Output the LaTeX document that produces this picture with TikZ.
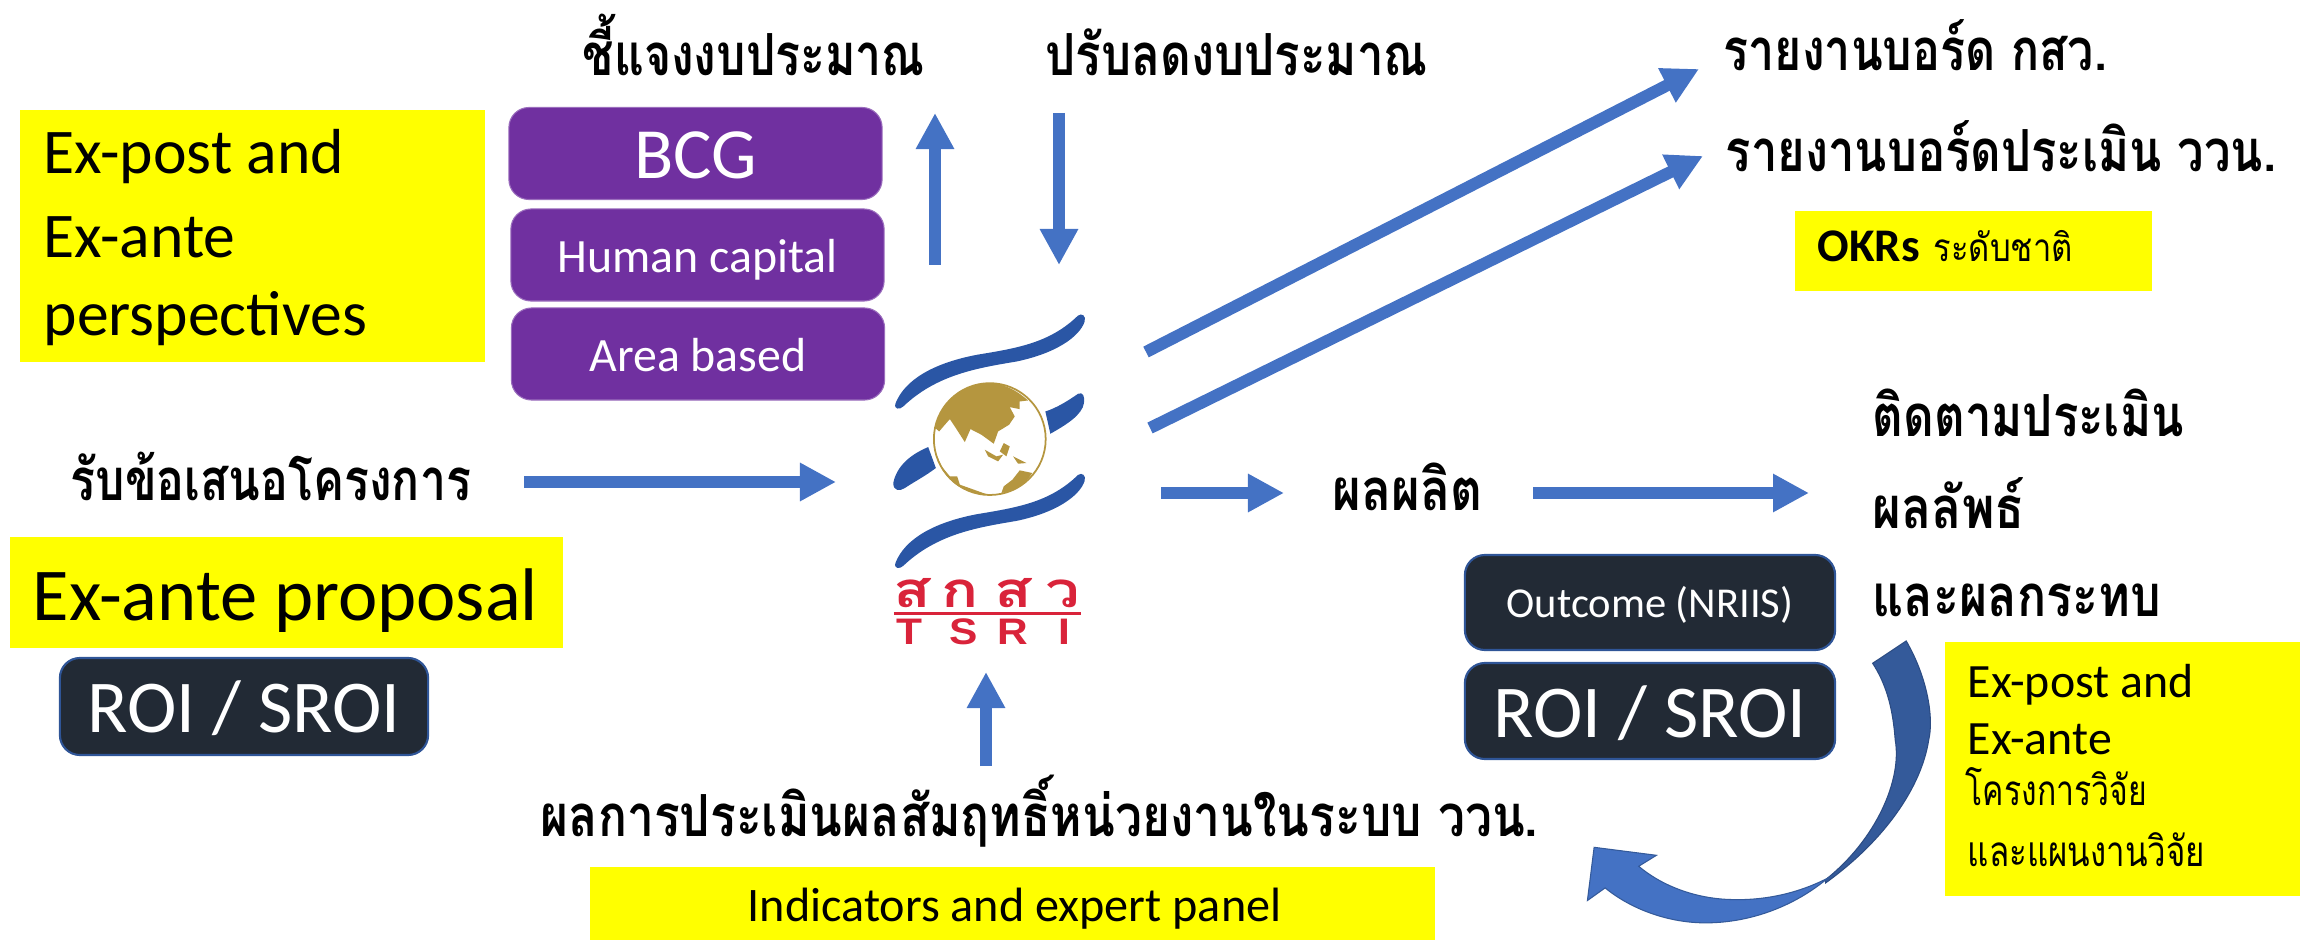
\documentclass[tikz,border=0pt]{standalone}
\usepackage{fontspec}
\usetikzlibrary{arrows.meta}
\setmainfont{Carlito}
\newfontfamily\thaifont[Script=Thai]{Loma}
\newfontfamily\logofont{Liberation Sans}
\newsavebox\fitbox
\newcommand\fitw[2]{\sbox\fitbox{#2}\pgfmathsetmacro\fitsx{#1*0.28453/\wd\fitbox}\scalebox{\fitsx}[1]{\usebox\fitbox}}
\newcommand\fs[1]{\fontsize{#1}{#1}\selectfont}
\definecolor{arrowblue}{HTML}{4472C4}
\definecolor{arrowdark}{HTML}{345A9A}
\definecolor{purplebox}{HTML}{7030A0}
\definecolor{darkbox}{HTML}{222A35}
\definecolor{darkedge}{HTML}{2F5597}
\definecolor{logoblue}{HTML}{2A56A5}
\definecolor{logogold}{HTML}{B5963F}
\definecolor{logored}{HTML}{D9233A}
\definecolor{hilite}{HTML}{FFFF00}
\tikzset{
  x=0.01cm,y=-0.01cm,
  blockarrow/.style={draw=arrowblue,line width=0.12cm,-{Triangle[length=0.36cm,width=0.36cm]}},
  panel/.style={fill=hilite,inner sep=0,minimum width=#1},
  purplebtn/.style={fill=purplebox,draw=purplebox!70!white,line width=0.3pt,rounded corners=0.2cm,inner sep=0,text=white,minimum width=3.73cm,minimum height=0.92cm,text depth=0pt},
  darkbtn/.style={fill=darkbox,draw=darkedge,line width=0.6pt,rounded corners=0.2cm,inner sep=0,text=white,text depth=0pt},
  thaitext/.style={anchor=base west,inner sep=0,font=\thaifont\bfseries\fs{#1}},
  thaitext/.default={16.5pt},
  latintext/.style={anchor=base west,inner sep=0,font=\fs{#1}},
  logothai/.style={inner sep=0,anchor=base,font=\thaifont\bfseries\fs{14pt},text=logored},
  logolatin/.style={inner sep=0,anchor=base,font=\logofont\bfseries\fs{10.5pt},text=logored},
}
\begin{document}
\begin{tikzpicture}
\useasboundingbox (0,0) rectangle (2300,940);
% yellow panels
\node[panel=4.65cm,minimum height=2.52cm] (ybox1) at (252.5,236) {};
\node[panel=5.53cm,minimum height=1.11cm] (ybox2) at (286.5,592.5) {};
\node[panel=3.57cm,minimum height=0.80cm] (ybox3) at (1973.5,251) {};
\node[panel=3.55cm,minimum height=2.54cm] (ybox4) at (2122.5,769) {};
\node[panel=8.45cm,minimum height=0.73cm] (ybox5) at (1012.5,903.5) {};
% purple
\node[purplebtn,font=\fs{20.5pt},text height=0.49cm] (bcg) at (695.5,153.5) {BCG};
\node[purplebtn,font=\fs{13.6pt},text height=0.34cm] (human) at (697.5,255) {Human capital};
\node[purplebtn,font=\fs{13.6pt},text height=0.35cm] (area) at (698,354) {Area based};
% dark
\node[darkbtn,minimum width=3.68cm,minimum height=0.97cm,font=\fs{21.2pt},text height=0.52cm] (roil) at (244,706.5) {ROI / SROI};
\node[darkbtn,minimum width=3.70cm,minimum height=0.95cm,font=\fs{12.1pt},text height=0.29cm] (outcome) at (1650,602.5) {Outcome (NRIIS)};
\node[darkbtn,minimum width=3.70cm,minimum height=0.96cm,font=\fs{21.2pt},text height=0.52cm] (roir) at (1650,711) {ROI / SROI};
% latin
\node[latintext=18.1pt] (t1) at (43,174) {Ex-post and};
\node[latintext=18.1pt] (t2) at (43,258) {Ex-ante};
\node[latintext=18.1pt] (t3) at (43,336) {perspectives};
\node[latintext=21.2pt] (t4) at (32,620) {Ex-ante proposal};
\node[latintext=13.7pt] (t5) at (747,921) {Indicators and expert panel};
\node[latintext=13.6pt] (t6) at (1967,697) {Ex-post and};
\node[latintext=13.6pt] (t7) at (1967,754) {Ex-ante};
\node[latintext=13.3pt,font=\bfseries\fs{13.3pt}] (t8) at (1817,262) {OKRs};
% thai
\node[thaitext] (h1) at (582,76) {\fitw{342}{ชี้แจงงบประมาณ}};
\node[thaitext] (h2) at (1045,76) {\fitw{382}{ปรับลดงบประมาณ}};
\node[thaitext] (h3) at (1723,71) {\fitw{383}{รายงานบอร์ด กสว.}};
\node[thaitext] (h4) at (1725,172) {\fitw{550}{รายงานบอร์ดประเมิน ววน.}};
\node[thaitext=11pt] (h5) at (1933,262) {\fitw{139}{\mdseries ระดับชาติ}};
\node[thaitext] (h6) at (70,501) {\fitw{400}{รับข้อเสนอโครงการ}};
\node[thaitext] (h7) at (1332,510) {\fitw{150}{ผลผลิต}};
\node[thaitext] (h8) at (1872,437) {\fitw{311}{ติดตามประเมิน}};
\node[thaitext] (h9) at (1872,528) {\fitw{152}{ผลลัพธ์}};
\node[thaitext] (h10) at (1872,616) {\fitw{288}{และผลกระทบ}};
\node[thaitext=12pt] (h11) at (1965,805) {\fitw{181}{\mdseries โครงการวิจัย}};
\node[thaitext=12pt] (h12) at (1967,866) {\fitw{237}{\mdseries และแผนงานวิจัย}};
\node[thaitext] (h13) at (540,836) {\fitw{997}{ผลการประเมินผลสัมฤทธิ์หน่วยงานในระบบ ววน.}};
% arrows
\coordinate (a1s) at (935,265); \coordinate (a1e) at (935,113);
\coordinate (a2s) at (1059,113); \coordinate (a2e) at (1059,265);
\coordinate (a3s) at (1146,352); \coordinate (a3e) at (1699,69);
\coordinate (a4s) at (1150,428); \coordinate (a4e) at (1703,156);
\coordinate (a5s) at (524,482); \coordinate (a5e) at (836,482);
\coordinate (a6s) at (1161,493); \coordinate (a6e) at (1284,493);
\coordinate (a7s) at (1533,493); \coordinate (a7e) at (1809,493);
\coordinate (a8s) at (986,766); \coordinate (a8e) at (986,672);
\foreach \p in {a1,a2,a3,a4,a5,a6,a7,a8} \draw[blockarrow] (\p s) -- (\p e);
% curved arrow
\begin{scope}[shift={(1550,620)},x=0.004796cm,y=-0.003333cm]
\draw[fill=arrowdark,draw=arrowdark!85!black,line width=0.3pt] (743,63) .. controls (790,180) and (800,300) .. (790,360) .. controls (775,500) and (700,660) .. (575,790) -- (575,780) .. controls (680,660) and (735,480) .. (720,360) .. controls (715,260) and (700,190) .. (673,130) -- cycle;
\draw[fill=arrowblue,draw=arrowdark,line width=0.3pt] (580,775) .. controls (520,820) and (450,843) .. (380,840) .. controls (300,838) and (230,795) .. (185,740) -- (222,707) -- (92,683) -- (78,843) -- (115,805) .. controls (170,870) and (250,912) .. (330,910) .. controls (420,908) and (510,860) .. (580,775) -- cycle;
\end{scope}
% logo
\begin{scope}[shift={(850,280)},x=0.003333cm,y=-0.003333cm]
\fill[logoblue] (137,370) .. controls (165,300) and (250,250) .. (380,225) .. controls (500,205) and (600,190) .. (685,107) .. controls (697,98) and (710,108) .. (705,125) .. controls (690,170) and (620,220) .. (500,245) .. controls (380,265) and (260,285) .. (160,380) .. controls (150,390) and (130,390) .. (137,370) -- cycle;
\fill[logoblue,yshift=-1.593cm] (137,370) .. controls (165,300) and (250,250) .. (380,225) .. controls (500,205) and (600,190) .. (685,107) .. controls (697,98) and (710,108) .. (705,125) .. controls (690,170) and (620,220) .. (500,245) .. controls (380,265) and (260,285) .. (160,380) .. controls (150,390) and (130,390) .. (137,370) -- cycle;
\fill[logoblue] (235,502) .. controls (180,525) and (140,560) .. (130,610) .. controls (130,635) and (150,635) .. (165,625) .. controls (195,605) and (225,590) .. (258,565) -- cycle;
\fill[logoblue] (587,395) .. controls (620,385) and (660,360) .. (685,342) .. controls (700,335) and (706,350) .. (703,370) .. controls (698,405) and (650,435) .. (602,462) -- cycle;
\filldraw[fill=white,draw=logogold,line width=0.5pt] (420,478) circle (168);
\fill[logogold] (535,362) .. controls (490,322) and (450,310) .. (420,310) .. controls (340,310) and (270,370) .. (256,445) -- (268,455) -- (285,435) -- (300,418) -- (318,445) -- (345,487) -- (362,448) -- (395,465) -- (432,492) -- (445,455) -- (478,435) -- (495,410) -- (480,382) -- (510,388) -- (510,365) -- cycle;
\fill[logogold] (455,640) -- (462,620) -- (488,600) -- (510,572) -- (548,580) .. controls (525,615) and (490,635) .. (455,640) -- cycle;
\fill[logogold] (405,510) -- (440,530) -- (460,525) -- (445,545) -- (415,530) -- cycle;
\fill[logogold] (462,490) -- (480,500) -- (470,530) -- (450,515) -- cycle;
\fill[logogold] (490,530) -- (530,550) -- (505,552) -- cycle;
\fill[logogold] (262,530) .. controls (280,600) and (340,645) .. (420,646) -- (400,640) -- (330,615) -- (322,590) -- (300,590) -- (275,560) -- cycle;
\node[logothai] (ls1) at (187,985) {\scalebox{1.25}[1]{ส}};
\node[logothai] (ls2) at (332,985) {\scalebox{1.25}[1]{ก}};
\node[logothai] (ls3) at (490,985) {\scalebox{1.25}[1]{ส}};
\node[logothai] (ls4) at (640,985) {\scalebox{1.25}[1]{ว}};
\draw[logored,line width=0.35mm] (132,1002) -- (695,1002);
\node[logolatin] (lt1) at (180,1095) {\scalebox{1.15}[1]{T}};
\node[logolatin] (lt2) at (340,1095) {\scalebox{1.15}[1]{S}};
\node[logolatin] (lt3) at (490,1095) {\scalebox{1.15}[1]{R}};
\node[logolatin] (lt4) at (645,1095) {\scalebox{1.15}[1]{I}};
\end{scope}
\end{tikzpicture}
\end{document}
